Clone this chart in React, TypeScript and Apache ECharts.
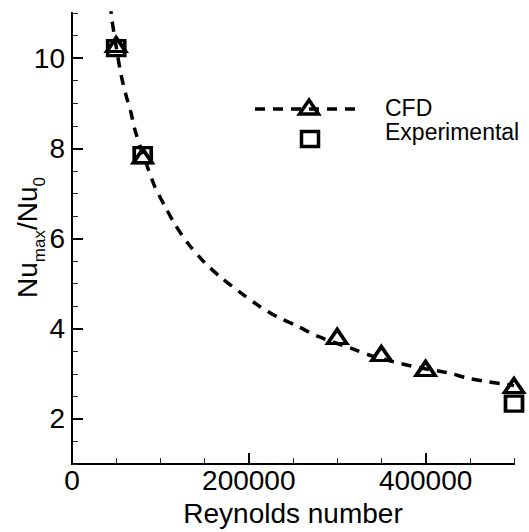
import React, { useEffect, useRef } from "react";
import * as echarts from "echarts";

const curveRe = [43500, 44900, 50000, 55300, 60900, 66600, 71300, 80000, 86400, 93900, 105300, 116600, 131700, 149400, 170100, 192100, 212800, 233500, 255000, 277000, 318400, 339200, 384500, 426000, 448600, 469400, 490100, 500000];
const curveNu = [11.2, 10.89, 10.25, 9.65, 9.19, 8.8, 8.4, 7.88, 7.53, 7.14, 6.71, 6.31, 5.88, 5.48, 5.11, 4.78, 4.49, 4.25, 4.06, 3.84, 3.55, 3.4, 3.17, 3.02, 2.9, 2.83, 2.77, 2.74];

const cfdRe = [50000, 80000, 300000, 350000, 400000, 500000];
const cfdNu = [10.3, 7.83, 3.83, 3.45, 3.12, 2.74];

const expRe = [50000, 80000, 500000];
const expNu = [10.22, 7.85, 2.34];

const xMajorTicks = [0, 200000, 400000];
const yMajorTicks = [2, 4, 6, 8, 10];

const FONT = "Liberation Sans, Arial, sans-serif";

export default function App() {
  const ref = useRef<HTMLDivElement>(null);
  useEffect(() => {
    if (!ref.current) return;
    const chart = echarts.init(ref.current, undefined, { renderer: "svg" });
    const axisLine = { show: true, onZero: false, lineStyle: { color: "#000", width: 2 } };
    const option: any = {
      animation: false,
      backgroundColor: "#fff",
      grid: { left: 72, right: 15, top: 13, bottom: 66 },
      xAxis: [
        {
          type: "value",
          min: 0,
          max: 500000,
          interval: 50000,
          position: "bottom",
          axisLine,
          axisTick: { show: true, inside: true, length: 6, lineStyle: { color: "#222", width: 1 } },
          axisLabel: { show: false },
          splitLine: { show: false },
        },
        {
          type: "value",
          min: 0,
          max: 500000,
          interval: 200000,
          position: "bottom",
          axisLine,
          axisTick: { show: true, inside: true, length: 11, customValues: xMajorTicks, lineStyle: { color: "#000", width: 2 } },
          axisLabel: {
            show: true,
            customValues: xMajorTicks,
            margin: 2,
            fontSize: 28,
            fontFamily: FONT,
            color: "#000",
            formatter: (v: number) => String(v),
          },
          splitLine: { show: false },
          name: "Reynolds number",
          nameLocation: "middle",
          nameGap: 29,
          nameTextStyle: { fontSize: 28, fontFamily: FONT, color: "#000" },
        },
      ],
      yAxis: [
        {
          type: "value",
          min: 1,
          max: 11,
          interval: 0.5,
          position: "left",
          axisLine,
          axisTick: { show: true, inside: true, length: 6, lineStyle: { color: "#222", width: 1 } },
          axisLabel: { show: false },
          splitLine: { show: false },
        },
        {
          type: "value",
          min: 1,
          max: 11,
          interval: 1,
          position: "left",
          axisLine,
          axisTick: { show: true, inside: true, length: 11, customValues: yMajorTicks, lineStyle: { color: "#000", width: 2 } },
          axisLabel: {
            show: true,
            customValues: yMajorTicks,
            margin: 7,
            fontSize: 28,
            fontFamily: FONT,
            color: "#000",
            formatter: (v: number) => String(v),
          },
          splitLine: { show: false },
        },
      ],
      series: [
        {
          type: "line",
          xAxisIndex: 0,
          yAxisIndex: 0,
          data: curveRe.map((x, i) => [x, curveNu[i]]),
          showSymbol: false,
          smooth: 0.3,
          clip: true,
          lineStyle: { color: "#000", width: 3.5, type: [10, 8], cap: "butt" },
          z: 2,
        },
        {
          type: "scatter",
          xAxisIndex: 0,
          yAxisIndex: 0,
          data: cfdRe.map((x, i) => [x, cfdNu[i]]),
          symbol: "triangle",
          symbolSize: [19, 14],
          itemStyle: { color: "rgba(0,0,0,0)", borderColor: "#000", borderWidth: 3.5, opacity: 1 },
          z: 3,
        },
        {
          type: "scatter",
          xAxisIndex: 0,
          yAxisIndex: 0,
          data: expRe.map((x, i) => [x, expNu[i]]),
          symbol: "rect",
          symbolSize: [17, 15],
          itemStyle: { color: "rgba(0,0,0,0)", borderColor: "#000", borderWidth: 3.5, opacity: 1 },
          z: 3,
        },
      ],
      graphic: [
        {
          type: "text",
          x: 28,
          y: 237.5,
          rotation: Math.PI / 2,
          style: {
            text: "{n|Nu}{s|max}{n|/Nu}{s|0}",
            align: "center",
            verticalAlign: "middle",
            fill: "#000",
            rich: {
              n: { fontSize: 28, fontFamily: FONT, lineHeight: 30, verticalAlign: "top", fill: "#000" },
              s: { fontSize: 17, fontFamily: FONT, lineHeight: 17, verticalAlign: "top", padding: [18, 0, 0, 0], fill: "#000" },
            },
          },
        },
        {
          type: "line",
          shape: { x1: 255, y1: 109, x2: 358, y2: 109 },
          style: { stroke: "#000", lineWidth: 3.5, lineDash: [10, 8] },
        },
        {
          type: "polygon",
          shape: { points: [[309, 100], [318.5, 114], [299.5, 114]] },
          style: { fill: "none", stroke: "#000", lineWidth: 3.5 },
        },
        {
          type: "rect",
          shape: { x: 301.5, y: 131.5, width: 17, height: 15 },
          style: { fill: "none", stroke: "#000", lineWidth: 3.5 },
        },
        {
          type: "text",
          x: 385,
          y: 108,
          style: { text: "CFD", fontSize: 23, fontFamily: FONT, fill: "#000", align: "left", verticalAlign: "middle" },
        },
        {
          type: "text",
          x: 385,
          y: 131.5,
          style: { text: "Experimental", fontSize: 23, fontFamily: FONT, fill: "#000", align: "left", verticalAlign: "middle" },
        },
      ],
    };
    chart.setOption(option);
    return () => chart.dispose();
  }, []);
  return <div ref={ref} style={{ position: "fixed", left: 0, top: 0, width: 529, height: 532, background: "#fff" }} />;
}
